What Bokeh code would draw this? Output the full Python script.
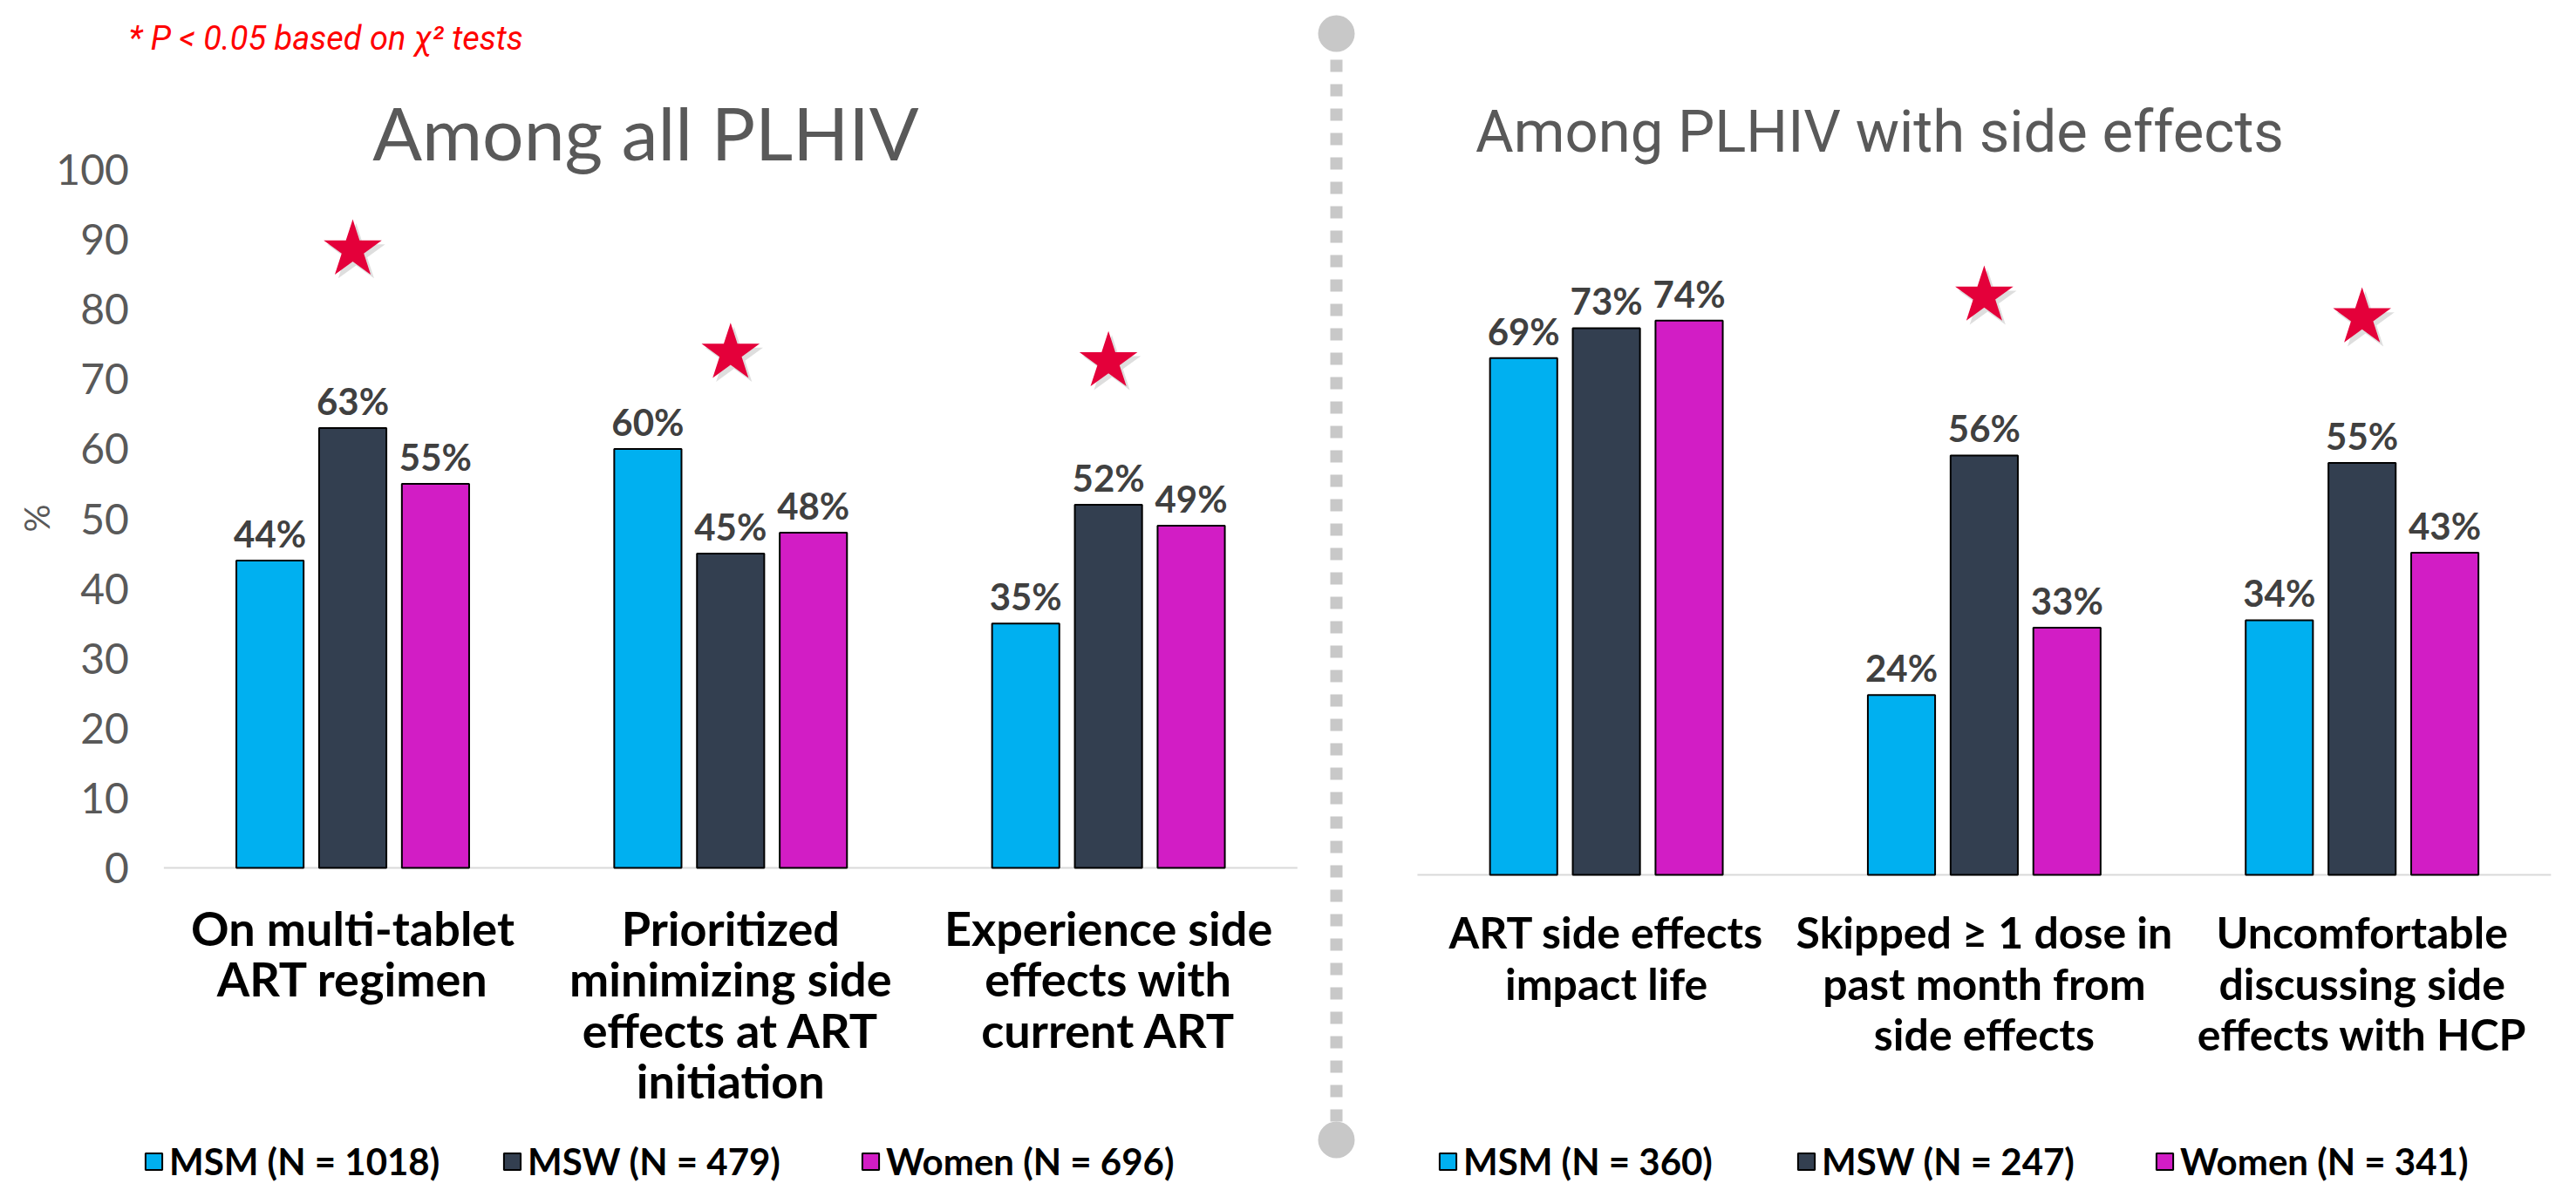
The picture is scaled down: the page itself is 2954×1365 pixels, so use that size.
import math
from bokeh.plotting import figure
from bokeh.models import (Range1d, ColumnDataSource, Legend, LegendItem,
                          Label, FixedTicker)
from bokeh.transform import dodge
from bokeh.layouts import row
from bokeh.embed import file_html
from bokeh.resources import INLINE
from bokeh.core.properties import value

# ---------------- data ----------------
left_categories = ["On multi-tablet\nART regimen",
                   "Prioritized\nminimizing side\neffects at ART\ninitiation",
                   "Experience side\neffects with\ncurrent ART"]
right_categories = ["ART side effects\nimpact life",
                    "Skipped \u2265 1 dose in\npast month from\nside effects",
                    "Uncomfortable\ndiscussing side\neffects with HCP"]
left_legend = ["MSM (N = 1018)", "MSW (N = 479)", "Women (N = 696)"]
right_legend = ["MSM (N = 360)", "MSW (N = 247)", "Women (N = 341)"]
left_msm = [44, 60, 35]
left_msw = [63, 45, 52]
left_women = [55, 48, 49]
right_msm = [69, 24, 34]
right_msw = [73, 56, 55]
right_women = [74, 33, 43]
left_star_index = [0, 1, 2]
left_star_heights = [88.5, 73.7, 72.5]
right_star_index = [1, 2]
right_star_heights = [77.3, 74.4]
y_ticks = [0, 10, 20, 30, 40, 50, 60, 70, 80, 90, 100]
left_title = "Among all PLHIV"
right_title = "Among PLHIV with side effects"
note_text = "* P < 0.05 based on \u03c7\u00b2 tests"
y_axis_label = "%"

colors = ["#00B0F0", "#333F50", "#D21DC5"]
offsets = [-0.219, 0.0, 0.219]
BAR_W = 0.178
FIG_H = 1357


def make_panel(categories, series, legend_labels, xr, yr, star_idx, star_h,
               fig_w, legend_loc, cat_font_size, cat_line_height):
    p = figure(x_range=Range1d(*xr), y_range=Range1d(*yr),
               width=fig_w, height=FIG_H, min_border=0, title=None,
               toolbar_location=None, output_backend="svg")
    p.outline_line_color = None
    p.xgrid.grid_line_color = None
    p.ygrid.grid_line_color = None
    p.background_fill_color = "white"
    p.border_fill_color = "white"

    idx = list(range(len(categories)))
    # baseline (category axis line)
    p.segment(x0=[idx[0] - 0.5], x1=[idx[-1] + 0.5], y0=[0], y1=[0],
              line_color="#D9D9D9", line_width=2)

    renderers = []
    for vals, col, off in zip(series, colors, offsets):
        src = ColumnDataSource(dict(x=idx, val=vals,
                                    lbl=["%d%%" % v for v in vals]))
        r = p.vbar(x=dodge("x", off), top="val", width=BAR_W,
                   source=src, fill_color=col, line_color="black", line_width=2)
        renderers.append(r)
        p.text(x=dodge("x", off), y="val", text="lbl",
               source=src, text_align="center", text_baseline="alphabetic",
               y_offset=-31, text_font=value("Lato"), text_font_style="bold",
               text_font_size="42px", text_color="#404040")

    ssrc = ColumnDataSource(dict(x=star_idx, h=star_h))
    p.scatter(x=dodge("x", 0.009), y=dodge("h", -0.55),
              source=ssrc, marker="star", size=70,
              fill_color="#000000", fill_alpha=0.13, line_color=None)
    p.scatter(x="x", y="h", source=ssrc, marker="star", size=70,
              fill_color="#E4003A", line_color=None)

    xa = p.xaxis[0]
    xa.fixed_location = 0
    xa.ticker = FixedTicker(ticks=idx)
    xa.major_label_overrides = {i: c for i, c in zip(idx, categories)}
    xa.major_label_text_font = "Lato"
    xa.major_label_text_font_style = "bold"
    xa.major_label_text_font_size = cat_font_size
    xa.major_label_text_color = "black"
    xa.major_label_text_line_height = cat_line_height
    xa.major_label_standoff = 30
    xa.axis_line_color = None
    xa.major_tick_line_color = None
    xa.minor_tick_line_color = None

    legend = Legend(items=[LegendItem(label=l, renderers=[r])
                           for l, r in zip(legend_labels, renderers)],
                    orientation="horizontal", location=legend_loc,
                    glyph_width=24, glyph_height=24, label_standoff=6,
                    label_width=370, spacing=11, padding=0, margin=0,
                    border_line_color=None, background_fill_alpha=0,
                    label_text_font="Lato", label_text_font_style="bold",
                    label_text_font_size="42px", label_text_color="black")
    p.add_layout(legend, "center")
    return p


# ---- left panel: 0 at y=995px, 100 at y=194px; categories every 433.3px
left = make_panel(left_categories, [left_msm, left_msw, left_women], left_legend,
                  (-0.9324, 2.534), (-45.19, 124.22),
                  left_star_index, left_star_heights, 1502, (164, 0),
                  "54px", 0.9)
ya = left.yaxis[0]
ya.fixed_location = -0.5
ya.ticker = FixedTicker(ticks=y_ticks)
ya.major_label_text_font = "Lato"
ya.major_label_text_font_size = "48px"
ya.major_label_text_color = "#595959"
ya.major_label_standoff = 34
ya.axis_line_color = None
ya.major_tick_line_color = None
ya.minor_tick_line_color = None

left.add_layout(Label(x=41, y=FIG_H - 594, x_units="screen", y_units="screen",
                      text=y_axis_label, angle=math.pi / 2, text_align="center",
                      text_baseline="middle", text_font="Lato",
                      text_font_size="40px", text_color="#595959"))
left.add_layout(Label(x=740, y=FIG_H - 151, x_units="screen", y_units="screen",
                      text=left_title, text_align="center",
                      text_baseline="alphabetic", text_font="Lato",
                      text_font_size="84px", text_color="#595959"))
left.add_layout(Label(x=147, y=FIG_H - 43, x_units="screen", y_units="screen",
                      text=note_text, text_align="left",
                      text_baseline="alphabetic", text_font="Roboto",
                      text_font_style="italic", text_font_size="38px",
                      text_color="#FF0000"))

# ---- right panel: 0 at y=1003px, 8.59px per unit
right = make_panel(right_categories, [right_msm, right_msw, right_women],
                   right_legend, (-0.6453, 2.5304), (-41.21, 116.76),
                   right_star_index, right_star_heights, 1376, (86, 0),
                   "50px", 0.967)
right.yaxis[0].visible = False
right.add_layout(Label(x=593, y=FIG_H - 150, x_units="screen", y_units="screen",
                       text=right_title, text_align="center",
                       text_baseline="alphabetic", text_font="Roboto",
                       text_font_size="67px", text_color="#595959"))

# ---- divider between the two panels (decoration)
div = figure(width=60, height=FIG_H, x_range=Range1d(0, 60),
             y_range=Range1d(FIG_H, 0), min_border=0, title=None,
             toolbar_location=None, output_backend="svg")
div.axis.visible = False
div.grid.grid_line_color = None
div.outline_line_color = None
div.line([30, 30], [68, 1286], line_width=14, line_color="#C8C8C8",
         line_dash="14 14")
div.scatter([30, 30], [38, 1307], size=42, marker="circle",
            fill_color="#C8C8C8", line_color=None)

layout = row(left, div, right)
open("out.html", "w").write(file_html(layout, INLINE))
